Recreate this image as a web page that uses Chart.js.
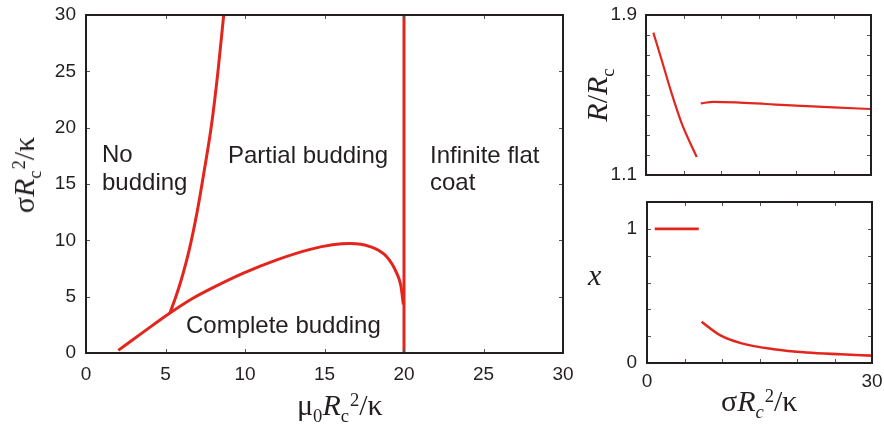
<!DOCTYPE html>
<html>
<head>
<meta charset="utf-8">
<script src="https://cdn.jsdelivr.net/npm/chart.js@4"></script>
<style>
  body { margin: 0; width: 884px; height: 424px; background: #fff; overflow: hidden; position: relative; }
  canvas { position: absolute; }
  .lbl { position: absolute; font-family: "Liberation Sans", Arial, sans-serif; font-size: 24px; line-height: 1; color: #231f20; white-space: nowrap; }
  .ttl { position: absolute; font-family: "Liberation Serif", "DejaVu Serif", serif; font-size: 30px; line-height: 1; color: #231f20; white-space: nowrap; }
  .rot { transform: translate(-50%, -50%) rotate(-90deg); }
  .sb { font-size: 0.62em; position: relative; top: 0.38em; }
  .sp { font-size: 0.62em; position: relative; top: -0.5em; margin-left: 0.05em; }
</style>
</head>
<body>
<canvas id="mainChart" width="580" height="424" style="left:0;top:0"></canvas>
<canvas id="radiusChart" width="304" height="190" style="left:580px;top:0"></canvas>
<canvas id="fracChart" width="304" height="234" style="left:580px;top:190px"></canvas>

<div class="lbl" style="left:102px;top:142px">No</div>
<div class="lbl" style="left:102px;top:170px">budding</div>
<div class="lbl" style="left:228px;top:143px">Partial budding</div>
<div class="lbl" style="left:430px;top:143px">Infinite flat</div>
<div class="lbl" style="left:430px;top:170px">coat</div>
<div class="lbl" style="left:186px;top:313px">Complete budding</div>

<div class="ttl rot" style="left:24px;top:175px">σ<i>R</i><span class="sb">c</span><span class="sp">2</span>/κ</div>
<div class="ttl" style="left:297px;top:390px">μ<span class="sb">0</span><i>R</i><span class="sb">c</span><span class="sp">2</span>/κ</div>
<div class="ttl rot" style="left:597px;top:95px"><i>R</i>/<i>R</i><span class="sb">c</span></div>
<div class="ttl" style="left:588px;top:260px"><i>x</i></div>
<div class="ttl" style="left:721px;top:386px">σ<i>R</i><span class="sb"><i>c</i></span><span class="sp">2</span>/κ</div>

<script>
// phase diagram boundaries (mu0 Rc^2/kappa, sigma Rc^2/kappa)
const noBudX = [5.28, 5.6, 5.95, 6.5, 7.0, 7.45, 7.9, 8.3, 8.66];
const noBudY = [3.55, 4.8, 6.3, 9.2, 12.6, 16.3, 20.3, 25.0, 30.0];
const completeX = [2.03, 3.6, 5.28, 6.75, 7.8, 9.9, 12.0, 14.1, 15.5, 16.6, 17.86, 18.9, 19.54, 19.8, 19.96];
const completeY = [0.23, 1.85, 3.55, 4.88, 5.67, 7.09, 8.27, 9.2, 9.6, 9.72, 9.45, 8.56, 7.09, 6.0, 4.3];
const flatX = [20, 20];
const flatY = [0, 30];

// R/Rc vs sigma Rc^2/kappa
const radiusLowX = [0.98, 2.09, 3.42, 4.76, 6.76];
const radiusLowY = [1.812, 1.675, 1.508, 1.358, 1.19];
const radiusHighX = [7.3, 9, 12, 16, 20, 25, 30];
const radiusHighY = [1.458, 1.466, 1.463, 1.455, 1.447, 1.438, 1.43];

// x vs sigma Rc^2/kappa
const fracFullX = [1.03, 6.9];
const fracFullY = [1, 1];
const fracPartX = [7.28, 9.73, 12.4, 16.9, 21.3, 25.8, 30];
const fracPartY = [0.307, 0.208, 0.15, 0.103, 0.078, 0.065, 0.055];

const RED = "#e3261d";
const INK = "#231f20";

function pts(xs, ys) {
  return xs.map((x, i) => ({ x, y: ys[i] }));
}

function line(xs, ys, width, smooth) {
  return {
    data: pts(xs, ys),
    showLine: true,
    borderColor: RED,
    borderWidth: width,
    pointRadius: 0,
    fill: false,
    cubicInterpolationMode: smooth ? "monotone" : "default",
    tension: 0,
  };
}

// box frame + inward ticks on all four sides
const frameTicks = {
  id: "frameTicks",
  afterDraw(chart, args, opts) {
    const { ctx, chartArea: { left, right, top, bottom }, scales: { x, y } } = chart;
    ctx.save();
    ctx.strokeStyle = "#555";
    ctx.lineWidth = 1;
    ctx.beginPath();
    x.ticks.forEach((t) => {
      const px = Math.round(x.getPixelForValue(t.value)) + 0.5;
      ctx.moveTo(px, bottom); ctx.lineTo(px, bottom - opts.len);
      ctx.moveTo(px, top); ctx.lineTo(px, top + opts.len);
    });
    y.ticks.forEach((t) => {
      const py = Math.round(y.getPixelForValue(t.value)) + 0.5;
      ctx.moveTo(left, py); ctx.lineTo(left + opts.len, py);
      ctx.moveTo(right, py); ctx.lineTo(right - opts.len, py);
    });
    ctx.stroke();
    ctx.strokeStyle = INK;
    ctx.lineWidth = 2;
    ctx.strokeRect(left, top, right - left, bottom - top);
    ctx.restore();
  },
};

// fixed axis size, no label overhang padding
function fixSize(prop, size) {
  return (s) => {
    s[prop] = size;
    s.paddingTop = 0; s.paddingBottom = 0; s.paddingLeft = 0; s.paddingRight = 0;
  };
}

function makeChart(id, datasets, cfg) {
  return new Chart(document.getElementById(id), {
    type: "scatter",
    data: { datasets },
    options: {
      responsive: false,
      animation: false,
      events: [],
      layout: { padding: cfg.padding },
      plugins: { legend: { display: false }, tooltip: { enabled: false }, frameTicks: { len: 4 } },
      scales: {
        x: {
          type: "linear",
          min: cfg.xMin, max: cfg.xMax,
          grid: { display: false, drawTicks: false },
          border: { display: false },
          afterFit: fixSize("height", cfg.xHeight),
          ticks: {
            stepSize: cfg.xStep,
            padding: cfg.xPad,
            color: INK,
            font: { family: "Liberation Sans", size: 19 },
            callback: cfg.xLabel,
            autoSkip: false,
            maxRotation: 0,
          },
        },
        y: {
          type: "linear",
          min: cfg.yMin, max: cfg.yMax,
          grid: { display: false, drawTicks: false },
          border: { display: false },
          afterFit: fixSize("width", cfg.yWidth),
          ticks: {
            stepSize: cfg.yStep,
            padding: cfg.yPad,
            color: INK,
            font: { family: "Liberation Sans", size: 19 },
            callback: cfg.yLabel,
            autoSkip: false,
          },
        },
      },
    },
    plugins: [frameTicks],
  });
}

const near = (v, t) => Math.abs(v - t) < 1e-6;

makeChart("mainChart", [
  line(noBudX, noBudY, 3, true),
  line(completeX, completeY, 3, true),
  line(flatX, flatY, 3, false),
], {
  padding: { left: 0, top: 15, right: 17, bottom: 0 },
  xMin: 0, xMax: 30, xStep: 5, xHeight: 71, xPad: 10,
  yMin: 0, yMax: 30, yStep: 5, yWidth: 86, yPad: 10,
  xLabel: (v) => v,
  yLabel: (v) => v,
});

makeChart("radiusChart", [
  line(radiusLowX, radiusLowY, 2.2, true),
  line(radiusHighX, radiusHighY, 2.2, true),
], {
  padding: { left: 0, top: 15, right: 13, bottom: 0 },
  xMin: 0, xMax: 30, xStep: 5, xHeight: 15, xPad: 7,
  yMin: 1.1, yMax: 1.9, yStep: 0.1, yWidth: 66, yPad: 9,
  xLabel: () => "",
  yLabel: (v) => (near(v, 1.1) || near(v, 1.9) ? v.toFixed(1) : ""),
});

makeChart("fracChart", [
  line(fracFullX, fracFullY, 2.6, false),
  line(fracPartX, fracPartY, 2.6, true),
], {
  padding: { left: 0, top: 12, right: 12, bottom: 0 },
  xMin: 0, xMax: 30, xStep: 5, xHeight: 61, xPad: 7,
  yMin: 0, yMax: 1.2, yStep: 0.2, yWidth: 67, yPad: 10,
  xLabel: (v) => (v === 0 || v === 30 ? v : ""),
  yLabel: (v) => (near(v, 0) || near(v, 1) ? v.toFixed(0) : ""),
});
</script>
</body>
</html>
